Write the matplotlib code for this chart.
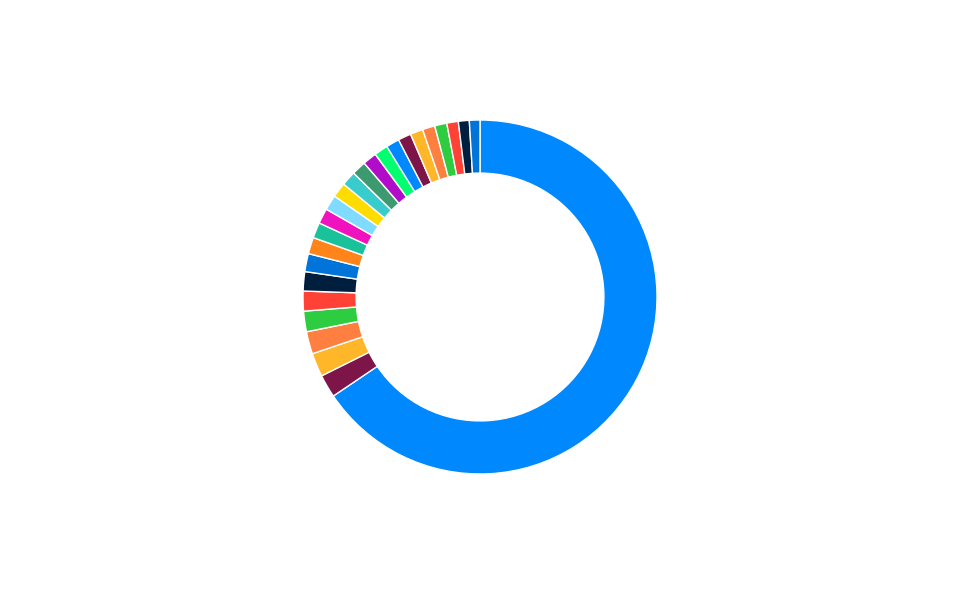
import matplotlib
matplotlib.use("Agg")
import matplotlib.pyplot as plt

# slice values, clockwise from 12 o'clock
values = [231, 7.4, 7.6, 7.2, 6.6, 6.4, 6.2, 5.8, 5.3, 5.0, 4.9, 4.9, 4.8,
          4.7, 4.6, 4.5, 4.4, 4.3, 4.2, 4.1, 4.0, 3.9, 3.7, 3.5, 3.4]

palette = ['#0088ff', '#7d1548', '#ffb629', '#ff7f41', '#2ecc40', '#ff4136',
           '#001f3f', '#0074d9', '#ff851b', '#19c29a', '#f012be', '#7fdbff',
           '#ffdc00', '#39cccc', '#3d9970', '#b10dc9', '#01ff70']
colors = [palette[i % len(palette)] for i in range(len(values))]

fig = plt.figure(figsize=(9.6, 6), dpi=100)
ax = fig.add_axes([0, 0, 1, 1])

ax.pie(values, colors=colors, startangle=90, counterclock=False,
       radius=1.0,
       wedgeprops=dict(width=0.30, edgecolor='white', linewidth=1))

# place the ring like the reference (radius ~177 px, centre at 480,297)
r_px = 177.0
ax.set_xlim(-480 / r_px, 480 / r_px)
ax.set_ylim(-303 / r_px, 297 / r_px)
ax.set_aspect('auto')
ax.axis('off')

fig.savefig('out.png', dpi=100)
